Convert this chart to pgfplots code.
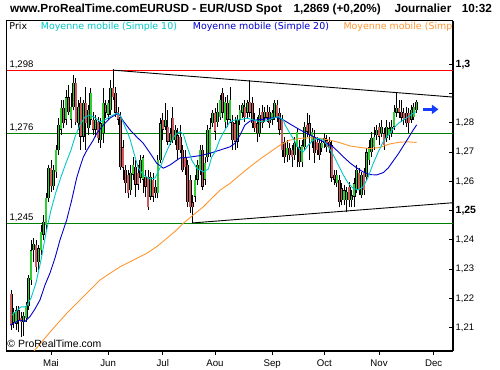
\documentclass[border=0pt]{standalone}
\usepackage{fontspec}
\setmainfont{Liberation Sans}
\newfontfamily\dejavu{DejaVu Sans}
\usepackage{pgfplots}
\usepackage{pgfplotstable}
\pgfplotsset{compat=1.18}
\usetikzlibrary{arrows.meta}
\definecolor{cgreen}{RGB}{50,205,50}
\definecolor{cred}{RGB}{205,92,92}
\definecolor{macyan}{RGB}{0,200,200}
\definecolor{mablue}{RGB}{0,0,205}
\definecolor{maorange}{RGB}{255,150,50}
\definecolor{lgreen}{RGB}{0,128,0}
\definecolor{arrowblue}{RGB}{20,60,255}

\pgfplotstableread{
d O H L C
-16 1.2215 1.2229 1.2092 1.2109
-15 1.2119 1.2167 1.2099 1.2154
-14 1.2113 1.2174 1.2092 1.2160
-13 1.2160 1.2174 1.2085 1.2126
-12 1.2133 1.2154 1.2068 1.2119
-11 1.2119 1.2154 1.2072 1.2140
-10 1.2133 1.2188 1.2119 1.2174
-9 1.2174 1.2280 1.2160 1.2270
-8 1.2263 1.2400 1.2246 1.2365
-7 1.2365 1.2406 1.2324 1.2386
-6 1.2383 1.2400 1.2290 1.2307
-5 1.2324 1.2383 1.2297 1.2372
-4 1.2365 1.2451 1.2348 1.2427
-3 1.2417 1.2485 1.2400 1.2461
-2 1.2451 1.2560 1.2434 1.2543
-1 1.2543 1.2656 1.2529 1.2646
0 1.2646 1.2673 1.2564 1.2584
1 1.2584 1.2656 1.2570 1.2639
2 1.2632 1.2724 1.2612 1.2707
3 1.2707 1.2817 1.2690 1.2793
4 1.2776 1.2878 1.2758 1.2851
5 1.2851 1.2878 1.2782 1.2799
6 1.2810 1.2912 1.2793 1.2888
7 1.2888 1.2929 1.2827 1.2837
8 1.2810 1.2902 1.2782 1.2854
9 1.2854 1.2963 1.2844 1.2936
10 1.2936 1.2953 1.2793 1.2803
11 1.2799 1.2878 1.2776 1.2854
12 1.2868 1.2888 1.2707 1.2752
13 1.2752 1.2878 1.2735 1.2868
14 1.2868 1.2922 1.2707 1.2799
15 1.2782 1.2861 1.2758 1.2844
16 1.2810 1.2919 1.2793 1.2902
17 1.2810 1.2837 1.2758 1.2776
18 1.2776 1.2827 1.2752 1.2810
19 1.2803 1.2820 1.2731 1.2748
20 1.2741 1.2817 1.2714 1.2799
21 1.2765 1.2919 1.2731 1.2868
22 1.2861 1.2878 1.2817 1.2834
23 1.2827 1.2878 1.2810 1.2868
24 1.2844 1.2946 1.2827 1.2919
25 1.2919 1.2983 1.2878 1.2888
26 1.2902 1.2922 1.2820 1.2834
27 1.2837 1.2854 1.2793 1.2810
28 1.2820 1.2837 1.2639 1.2649
29 1.2717 1.2741 1.2605 1.2646
30 1.2639 1.2656 1.2560 1.2594
31 1.2622 1.2639 1.2543 1.2560
32 1.2570 1.2656 1.2553 1.2629
33 1.2622 1.2683 1.2605 1.2656
34 1.2649 1.2673 1.2547 1.2588
35 1.2629 1.2656 1.2570 1.2588
36 1.2612 1.2690 1.2594 1.2673
37 1.2605 1.2690 1.2560 1.2683
38 1.2615 1.2639 1.2547 1.2581
39 1.2615 1.2639 1.2502 1.2512
40 1.2547 1.2632 1.2536 1.2615
41 1.2605 1.2629 1.2529 1.2547
42 1.2581 1.2605 1.2543 1.2560
43 1.2560 1.2690 1.2543 1.2673
44 1.2673 1.2817 1.2663 1.2799
45 1.2810 1.2834 1.2741 1.2776
46 1.2786 1.2868 1.2776 1.2810
47 1.2786 1.2844 1.2724 1.2735
48 1.2735 1.2782 1.2724 1.2765
49 1.2817 1.2854 1.2731 1.2741
50 1.2741 1.2793 1.2724 1.2776
51 1.2758 1.2782 1.2673 1.2707
52 1.2752 1.2793 1.2697 1.2707
53 1.2707 1.2724 1.2632 1.2639
54 1.2683 1.2707 1.2622 1.2649
55 1.2656 1.2673 1.2512 1.2529
56 1.2605 1.2622 1.2492 1.2512
57 1.2529 1.2553 1.2458 1.2512
58 1.2547 1.2622 1.2529 1.2605
59 1.2605 1.2673 1.2588 1.2656
60 1.2639 1.2724 1.2622 1.2707
61 1.2707 1.2724 1.2570 1.2581
62 1.2605 1.2683 1.2588 1.2663
63 1.2683 1.2793 1.2666 1.2776
64 1.2697 1.2817 1.2683 1.2782
65 1.2799 1.2844 1.2786 1.2834
66 1.2834 1.2851 1.2741 1.2769
67 1.2803 1.2868 1.2786 1.2837
68 1.2820 1.2895 1.2810 1.2878
69 1.2902 1.2919 1.2817 1.2834
70 1.2803 1.2888 1.2782 1.2871
71 1.2868 1.2895 1.2786 1.2810
72 1.2810 1.2922 1.2799 1.2878
73 1.2803 1.2827 1.2707 1.2741
74 1.2799 1.2820 1.2707 1.2735
75 1.2735 1.2827 1.2714 1.2810
76 1.2810 1.2861 1.2793 1.2844
77 1.2834 1.2868 1.2817 1.2861
78 1.2854 1.2878 1.2803 1.2820
79 1.2834 1.2878 1.2817 1.2868
80 1.2871 1.2946 1.2820 1.2834
81 1.2868 1.2888 1.2782 1.2799
82 1.2810 1.2834 1.2769 1.2782
83 1.2799 1.2820 1.2735 1.2765
84 1.2765 1.2851 1.2752 1.2827
85 1.2837 1.2861 1.2782 1.2799
86 1.2817 1.2854 1.2803 1.2837
87 1.2837 1.2861 1.2803 1.2817
88 1.2837 1.2854 1.2782 1.2799
89 1.2810 1.2844 1.2793 1.2834
90 1.2820 1.2878 1.2810 1.2868
91 1.2861 1.2878 1.2803 1.2820
92 1.2834 1.2851 1.2758 1.2776
93 1.2810 1.2827 1.2683 1.2707
94 1.2735 1.2752 1.2663 1.2683
95 1.2690 1.2741 1.2666 1.2714
96 1.2714 1.2731 1.2673 1.2690
97 1.2707 1.2724 1.2649 1.2683
98 1.2690 1.2752 1.2673 1.2731
99 1.2717 1.2782 1.2649 1.2769
100 1.2717 1.2741 1.2649 1.2666
101 1.2666 1.2741 1.2649 1.2724
102 1.2717 1.2803 1.2707 1.2786
103 1.2793 1.2834 1.2752 1.2769
104 1.2799 1.2827 1.2673 1.2758
105 1.2735 1.2782 1.2714 1.2769
106 1.2752 1.2776 1.2663 1.2697
107 1.2735 1.2752 1.2690 1.2707
108 1.2731 1.2748 1.2673 1.2690
109 1.2714 1.2741 1.2700 1.2731
110 1.2748 1.2765 1.2714 1.2731
111 1.2741 1.2758 1.2700 1.2717
112 1.2735 1.2752 1.2697 1.2714
113 1.2724 1.2741 1.2598 1.2612
114 1.2622 1.2639 1.2588 1.2605
115 1.2594 1.2639 1.2581 1.2622
116 1.2605 1.2622 1.2512 1.2529
117 1.2577 1.2594 1.2519 1.2536
118 1.2536 1.2588 1.2519 1.2570
119 1.2536 1.2581 1.2495 1.2564
120 1.2581 1.2598 1.2512 1.2536
121 1.2536 1.2570 1.2512 1.2553
122 1.2547 1.2612 1.2512 1.2594
123 1.2570 1.2656 1.2560 1.2639
124 1.2629 1.2646 1.2553 1.2570
125 1.2553 1.2632 1.2543 1.2622
126 1.2629 1.2646 1.2553 1.2570
127 1.2615 1.2714 1.2605 1.2700
128 1.2673 1.2741 1.2656 1.2717
129 1.2700 1.2769 1.2683 1.2748
130 1.2717 1.2786 1.2707 1.2752
131 1.2758 1.2793 1.2741 1.2776
132 1.2786 1.2799 1.2724 1.2752
133 1.2765 1.2810 1.2752 1.2786
134 1.2765 1.2782 1.2707 1.2724
135 1.2748 1.2810 1.2735 1.2786
136 1.2758 1.2803 1.2741 1.2782
137 1.2765 1.2810 1.2752 1.2786
138 1.2786 1.2861 1.2776 1.2837
139 1.2834 1.2905 1.2820 1.2851
140 1.2851 1.2878 1.2817 1.2834
141 1.2837 1.2878 1.2803 1.2817
142 1.2834 1.2851 1.2793 1.2810
143 1.2834 1.2854 1.2786 1.2799
144 1.2834 1.2851 1.2765 1.2799
145 1.2810 1.2861 1.2799 1.2844
146 1.2820 1.2868 1.2810 1.2854
147 1.2844 1.2878 1.2834 1.2871
}\candles

\begin{document}
\begin{tikzpicture}
\useasboundingbox (0,0) rectangle (500bp,370bp);
\begin{axis}[
  at={(6bp,19.3bp)}, anchor=south west, scale only axis,
  width=447bp, height=330bp,
  xmin=-18.11, xmax=161.77, ymin=1.20214, ymax=1.3149,
  axis x line*=bottom, axis y line*=right,
  axis line style={line width=2.2bp, -},
  xtick={0,23,45,66,89,110,132,154},
  xticklabels={Mai,Jun,Jul,Aou,Sep,Oct,Nov,Dec},
  ytick={1.21,1.22,1.23,1.24,1.25,1.26,1.27,1.28,1.29,1.30},
  yticklabels={{1,21},{1,22},{1,23},{1,24},{\fontsize{10.5}{12}\selectfont\bfseries 1,25},{1,26},{1,27},{1,28},{},{\fontsize{10.5}{12}\selectfont\bfseries 1,3}},
  tick align=inside,
  major tick length=4.5bp,
  tick style={black, line width=1bp},
  xtick style={yshift=-4.5bp},
  xticklabel style={font=\fontsize{9.7}{11}\selectfont, anchor=base, inner sep=0pt, yshift=-16bp},
  yticklabel style={font=\fontsize{9.5}{11}\selectfont, anchor=west, inner sep=0pt, xshift=2.5bp},
  clip mode=individual,
]
% horizontal levels
\addplot[red, line width=1bp] coordinates {(-18.11,1.298) (161.77,1.298)};
\addplot[lgreen, line width=1bp] coordinates {(-18.11,1.2765) (161.77,1.2765)};
\addplot[lgreen, line width=1bp] coordinates {(-18.11,1.2457) (161.77,1.2457)};
% wicks
\addplot[draw=none, mark=none, error bars/.cd, y dir=plus, y explicit, error mark=none,
  error bar style={draw=black, line width=0.75bp}]
  table[x=d, y=L, y error plus expr={\thisrow{H}-\thisrow{L}}] {\candles};
% body outlines
\addplot[draw=none, mark=none, error bars/.cd, y dir=plus, y explicit, error mark=none,
  error bar style={draw=black, line width=2.7bp, line cap=butt}]
  table[x=d, y expr={min(\thisrow{O},\thisrow{C})}, y error plus expr={max(abs(\thisrow{C}-\thisrow{O}),0.0003)}] {\candles};
% green bodies
\addplot[draw=none, mark=none, restrict expr to domain={\thisrow{C}-\thisrow{O}}{0:1},
  error bars/.cd, y dir=plus, y explicit, error mark=none,
  error bar style={draw=cgreen, line width=1.5bp, line cap=butt}]
  table[x=d, y expr={\thisrow{O}+0.00015}, y error plus expr={max(\thisrow{C}-\thisrow{O}-0.0003,0)}] {\candles};
% red bodies
\addplot[draw=none, mark=none, restrict expr to domain={\thisrow{C}-\thisrow{O}}{-1:0},
  error bars/.cd, y dir=plus, y explicit, error mark=none,
  error bar style={draw=cred, line width=1.5bp, line cap=butt}]
  table[x=d, y expr={\thisrow{C}+0.00015}, y error plus expr={max(\thisrow{O}-\thisrow{C}-0.0003,0)}] {\candles};
% moving averages
\addplot[maorange, line width=0.9bp] coordinates {
(-7.24,1.2014) (-6.44,1.2024) (-3.10,1.2058) (0.93,1.2098) (6.32,1.2149) (11.67,1.2195) (15.69,1.2229) (19.72,1.2263) (23.74,1.2286) (27.77,1.2308) (33.12,1.2331) (38.51,1.2354) (42.54,1.2377) (46.56,1.2405) (50.58,1.2434) (53.24,1.2457) (57.26,1.2485) (61.29,1.2513) (63.98,1.2536) (68.01,1.2570) (72.03,1.2593) (76.06,1.2622) (80.08,1.2650) (84.10,1.2676) (88.13,1.2700) (92.15,1.2724) (96.18,1.2741) (100.20,1.2747) (104.23,1.2749) (108.25,1.2747) (112.27,1.2741) (116.30,1.2732) (120.32,1.2721) (124.35,1.2716) (128.37,1.2712) (132.39,1.2716) (136.42,1.2728) (140.44,1.2734) (143.66,1.2735) (147.16,1.2733)};
\addplot[mablue, line width=0.9bp] coordinates {
(-16.50,1.2109) (-12.47,1.2126) (-10.46,1.2121) (-8.45,1.2138) (-6.44,1.2164) (-4.43,1.2195) (-2.41,1.2246) (-0.40,1.2287) (1.61,1.2338) (3.62,1.2400) (6.32,1.2468) (8.33,1.2536) (10.34,1.2612) (11.67,1.2649) (13.00,1.2683) (14.49,1.2707) (17.02,1.2741) (18.39,1.2764) (21.05,1.2793) (23.74,1.2816) (25.75,1.2827) (27.08,1.2833) (29.09,1.2806) (31.79,1.2776) (34.49,1.2752) (37.14,1.2730) (39.84,1.2697) (42.54,1.2662) (45.19,1.2645) (47.89,1.2656) (51.91,1.2680) (55.94,1.2683) (59.96,1.2688) (63.98,1.2696) (68.01,1.2707) (72.03,1.2718) (74.04,1.2730) (76.06,1.2758) (78.07,1.2793) (80.08,1.2806) (82.78,1.2810) (85.43,1.2812) (88.13,1.2816) (90.82,1.2819) (93.48,1.2810) (96.18,1.2796) (100.20,1.2776) (102.90,1.2764) (105.55,1.2753) (108.25,1.2741) (110.95,1.2730) (113.60,1.2717) (115.61,1.2701) (117.63,1.2684) (120.32,1.2663) (123.02,1.2646) (125.67,1.2632) (128.37,1.2623) (131.07,1.2622) (133.72,1.2630) (135.73,1.2646) (137.75,1.2670) (139.76,1.2694) (141.77,1.2721) (143.78,1.2748) (145.79,1.2776) (147.16,1.2793)};
\addplot[macyan, line width=0.9bp] coordinates {
(-15.69,1.2143) (-12.07,1.2171) (-10.06,1.2171) (-8.05,1.2201) (-6.04,1.2253) (-4.02,1.2331) (-2.01,1.2424) (0,1.2502) (2.01,1.2564) (4.02,1.2615) (6.04,1.2663) (8.05,1.2707) (9.66,1.2752) (11.67,1.2793) (13.68,1.2820) (15.69,1.2827) (17.71,1.2817) (19.72,1.2804) (21.73,1.2810) (23.74,1.2821) (26.44,1.2833) (27.77,1.2827) (29.78,1.2787) (31.79,1.2745) (33.80,1.2684) (35.13,1.2646) (37.14,1.2622) (39.84,1.2608) (41.85,1.2611) (43.86,1.2646) (45.88,1.2690) (47.89,1.2728) (49.90,1.2758) (51.91,1.2770) (53.24,1.2762) (54.61,1.2724) (56.62,1.2673) (58.63,1.2645) (61.29,1.2633) (63.30,1.2642) (64.67,1.2683) (66.00,1.2700) (68.01,1.2745) (70.02,1.2776) (72.03,1.2804) (74.04,1.2810) (76.06,1.2810) (78.75,1.2816) (81.41,1.2810) (84.10,1.2804) (86.80,1.2807) (89.46,1.2816) (91.47,1.2821) (93.48,1.2810) (94.16,1.2793) (96.18,1.2764) (98.19,1.2736) (100.20,1.2707) (101.53,1.2701) (103.54,1.2724) (105.55,1.2741) (107.57,1.2747) (109.58,1.2741) (111.59,1.2718) (113.60,1.2690) (115.61,1.2656) (117.63,1.2622) (119.64,1.2593) (121.65,1.2576) (123.66,1.2571) (125.67,1.2582) (127.69,1.2616) (129.70,1.2662) (131.71,1.2701) (133.72,1.2736) (135.73,1.2758) (137.75,1.2781) (139.76,1.2798) (141.77,1.2810) (143.78,1.2821) (145.79,1.2833) (146.88,1.2838)};
% trend lines
\addplot[black, line width=0.9bp] coordinates {(25,1.2980) (161.77,1.2888)};
\addplot[black, line width=0.9bp] coordinates {(57,1.2458) (161.77,1.2527)};
% arrow
\addplot[arrowblue, line width=3bp, -{Triangle[length=6.5bp, width=9bp]}] coordinates {(149.7,1.2846) (155.9,1.2846)};
% level labels
\node[anchor=base west, inner sep=0pt, font=\fontsize{9.6}{11}\selectfont, yshift=2.7bp] at (axis cs:-16.78,1.298) {1,298};
\node[anchor=base west, inner sep=0pt, font=\fontsize{9.6}{11}\selectfont, yshift=2.7bp] at (axis cs:-16.78,1.2765) {1,276};
\node[anchor=base west, inner sep=0pt, font=\fontsize{9.6}{11}\selectfont, yshift=2.7bp] at (axis cs:-16.78,1.2457) {1,245};
\end{axis}
% frame left and top
\draw[black, line width=1bp] (6bp,19.3bp) -- (6bp,349.3bp) -- (453bp,349.3bp);
% title
\node[anchor=base west, inner sep=0pt, font=\fontsize{11.8}{14}\selectfont\bfseries] at (10bp,357.3bp) {www.ProRealTime.comEURUSD - EUR/USD Spot};
\node[anchor=base west, inner sep=0pt, font=\fontsize{11.8}{14}\selectfont\bfseries] at (293.3bp,357.3bp) {1,2869 (+0,20\%)};
\node[anchor=base west, inner sep=0pt, font=\fontsize{11.8}{14}\selectfont\bfseries] at (394.3bp,357.3bp) {Journalier};
\node[anchor=base west, inner sep=0pt, font=\fontsize{11.8}{14}\selectfont\bfseries] at (461.7bp,357.3bp) {10:32};
% legend strip
\begin{scope}
\clip (6bp,335bp) rectangle (451.5bp,349bp);
\node[anchor=base west, inner sep=0pt, font=\dejavu\fontsize{9.5}{11}\selectfont] at (9.3bp,340bp) {Prix};
\node[anchor=base west, inner sep=0pt, text=macyan, font=\dejavu\fontsize{9.5}{11}\selectfont] at (40.7bp,340bp) {Moyenne mobile (Simple 10)};
\node[anchor=base west, inner sep=0pt, text=mablue, font=\dejavu\fontsize{9.5}{11}\selectfont] at (192.7bp,340bp) {Moyenne mobile (Simple 20)};
\node[anchor=base west, inner sep=0pt, text=maorange, font=\dejavu\fontsize{9.5}{11}\selectfont] at (343.3bp,340bp) {Moyenne mobile (Simple 50)};
\end{scope}
% copyright
\node[anchor=base west, inner sep=0pt, font=\fontsize{10.5}{12}\selectfont] at (7.3bp,22.5bp) {\textcopyright\ ProRealTime.com};
\end{tikzpicture}
\end{document}
